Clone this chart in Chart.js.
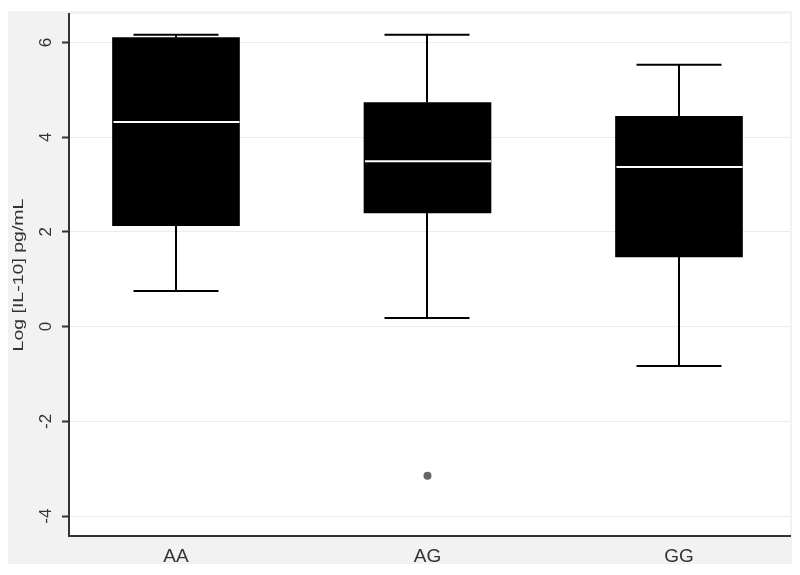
<!DOCTYPE html>
<html><head><meta charset="utf-8">
<script src="https://cdn.jsdelivr.net/npm/chart.js@4.4.1/dist/chart.umd.min.js"></script>
<style>html,body{margin:0;padding:0;background:#fff;}</style>
</head><body>
<canvas id="c" width="800" height="575"></canvas>
<script>
const categories = ['AA', 'AG', 'GG'];
const whiskerLow = [0.75, 0.18, -0.83];
const q1 = [2.13, 2.40, 1.47];
const median = [4.32, 3.49, 3.37];
const q3 = [6.10, 4.73, 4.44];
const whiskerHigh = [6.16, 6.16, 5.53];
const outlierCategory = ['AG'];
const outlierValue = [-3.15];
const yTicks = [-4, -2, 0, 2, 4, 6];
const yTitle = 'Log [IL-10] pg/mL';

Chart.defaults.font.family = '"Liberation Sans", Arial, sans-serif';

const boxParts = {
  id: 'boxParts',
  beforeDraw(chart) {
    const {ctx, chartArea: a} = chart;
    ctx.save();
    ctx.fillStyle = '#ffffff';
    ctx.fillRect(0, 0, chart.width, chart.height);
    ctx.fillStyle = '#f2f2f2';
    ctx.fillRect(8, 11, 784, 553);
    ctx.fillStyle = '#ffffff';
    ctx.fillRect(a.left, a.top, a.right - a.left, a.bottom - a.top);
    ctx.restore();
  },
  beforeDatasetsDraw(chart) {
    const {ctx, scales: {x, y}} = chart;
    ctx.save();
    ctx.strokeStyle = '#000';
    ctx.lineWidth = 2;
    const capHalf = 42.5;
    categories.forEach((c, i) => {
      const px = Math.round(x.getPixelForValue(i + 1));
      const yl = y.getPixelForValue(whiskerLow[i]);
      const yq1 = y.getPixelForValue(q1[i]);
      const yq3 = y.getPixelForValue(q3[i]);
      const yh = y.getPixelForValue(whiskerHigh[i]);
      ctx.beginPath();
      ctx.moveTo(px, yl); ctx.lineTo(px, yq1);
      ctx.moveTo(px, yq3); ctx.lineTo(px, yh);
      ctx.moveTo(px - capHalf, yl); ctx.lineTo(px + capHalf, yl);
      ctx.moveTo(px - capHalf, yh); ctx.lineTo(px + capHalf, yh);
      ctx.stroke();
    });
    ctx.restore();
  },
  afterDatasetsDraw(chart) {
    const {ctx, scales: {x, y}} = chart;
    const meta = chart.getDatasetMeta(0);
    ctx.save();
    ctx.strokeStyle = '#ffffff';
    ctx.lineWidth = 2;
    categories.forEach((c, i) => {
      const bar = meta.data[i];
      const half = bar.width / 2;
      const px = x.getPixelForValue(i + 1);
      const ym = y.getPixelForValue(median[i]);
      ctx.beginPath();
      ctx.moveTo(px - half + 1, ym); ctx.lineTo(px + half, ym);
      ctx.stroke();
    });
    ctx.restore();
  },
  afterDraw(chart) {
    const {ctx, chartArea: a} = chart;
    ctx.save();
    ctx.translate(19, (a.top + a.bottom) / 2);
    ctx.rotate(-Math.PI / 2);
    ctx.scale(1.3, 1);
    ctx.font = '15px "Liberation Sans", Arial, sans-serif';
    ctx.fillStyle = '#333';
    ctx.textAlign = 'center';
    ctx.textBaseline = 'middle';
    ctx.fillText(yTitle, 0, 0);
    ctx.restore();
  }
};

new Chart(document.getElementById('c'), {
  type: 'bar',
  data: {
    datasets: [
      {
        type: 'bar',
        data: categories.map((c, i) => ({x: i + 1, y: [q1[i], q3[i]]})),
        backgroundColor: '#000000',
        borderWidth: 0,
        barThickness: 127,
        borderSkipped: false,
        order: 2
      },
      {
        type: 'scatter',
        data: outlierCategory.map((c, i) => ({x: categories.indexOf(c) + 1, y: outlierValue[i]})),
        backgroundColor: '#666666',
        borderWidth: 0,
        pointRadius: 4,
        pointStyle: 'circle',
        order: 1
      }
    ]
  },
  options: {
    responsive: false,
    animation: false,
    devicePixelRatio: 1,
    layout: {padding: {left: 0, top: 14, right: 10, bottom: 0}},
    plugins: {legend: {display: false}, tooltip: {enabled: false}},
    scales: {
      x: {
        type: 'linear',
        min: 0.5746,
        max: 3.4414,
        offset: false,
        afterBuildTicks: s => { s.ticks = categories.map((c, i) => ({value: i + 1})); },
        afterFit: s => { s.height = 39; s.paddingLeft = 0; s.paddingRight = 0; },
        ticks: {
          callback: v => categories[v - 1] ?? '',
          font: {size: 19},
          color: '#333',
          padding: 9,
          autoSkip: false,
          maxRotation: 0
        },
        grid: {display: true, offset: false, color: 'rgba(0,0,0,0)', drawTicks: false},
        border: {display: true, color: '#333', width: 2}
      },
      y: {
        type: 'linear',
        min: -4.42,
        max: 6.6,
        afterBuildTicks: s => { s.ticks = yTicks.map(v => ({value: v})); },
        afterFit: s => { s.width = 69; s.paddingTop = 0; s.paddingBottom = 0; },
        ticks: {
          callback: v => String(v),
          font: {size: 17},
          color: '#333',
          padding: 8,
          minRotation: 90,
          maxRotation: 90,
          crossAlign: 'center'
        },
        grid: {color: '#ebebeb', lineWidth: 1, tickColor: '#333', tickLength: 7, tickWidth: 2},
        border: {color: '#333', width: 2}
      }
    }
  },
  plugins: [boxParts]
});
</script>
</body></html>
